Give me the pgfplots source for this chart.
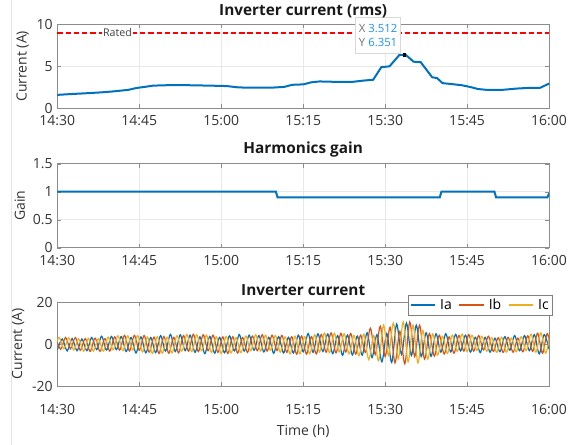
\documentclass[border=0pt]{standalone}
\usepackage{fontspec}
\setmainfont{Open Sans}
\usepackage{pgfplots}
\pgfplotsset{compat=1.18}
\definecolor{mblue}{rgb}{0,0.447,0.741}
\definecolor{morange}{rgb}{0.85,0.325,0.098}
\definecolor{myellow}{rgb}{0.929,0.694,0.125}
\definecolor{tipblue}{RGB}{30,144,255}
\pgfplotsset{
  panel/.style={
    scale only axis, width=368.8pt, height=63pt, anchor=south west,
    xmin=0, xmax=90, xtick={0,15,...,90},
    xticklabels={14:30,14:45,15:00,15:15,15:30,15:45,16:00},
    grid=major, grid style={black!9},
    axis line style={black!45}, tick style={black!45},
    tick align=inside, tick pos=both, major tick length=3pt,
    tick label style={font=\fontsize{10.5}{12}\selectfont, text=black!80},
    xticklabel style={yshift=-2pt},
    /pgf/number format/assume math mode=true,
    title style={font=\bfseries\fontsize{11.5}{13}\selectfont, text=black!90, yshift=-5pt},
    ylabel style={font=\fontsize{10.5}{12}\selectfont, text=black!80, yshift=-1pt},
    xlabel style={font=\fontsize{10.5}{12}\selectfont, text=black!80},
  }
}
\begin{document}
\begin{tikzpicture}
\useasboundingbox (0,0) rectangle (427.5pt,333.75pt);
\draw[black!10] (8.25pt,0) -- (8.25pt,333.75pt);

% Panel 1
\begin{axis}[panel, at={(43pt,252.5pt)}, ymin=0, ymax=10, ytick={0,5,10},
  title={Inverter current (rms)}, ylabel={Current (A)}, clip=false]
\addplot[red, dashed, line width=1.5pt, dash pattern=on 4pt off 2.2pt] coordinates {(0,9) (90,9)};
\node[fill=white, inner sep=1pt, font=\fontsize{8}{9}\selectfont, text=black!75] at (axis cs:11,9) {Rated};
\addplot[mblue, line width=1.5pt] coordinates {
(0,1.6)(2,1.68)(4,1.75)(6,1.82)(8,1.9)(10,2.0)(11.5,2.1)(13,2.2)(14,2.35)(14.8,2.45)(16,2.55)(17.5,2.7)(20,2.75)(24,2.75)(28,2.7)(31,2.65)(33,2.5)(35,2.45)(39,2.45)(41.5,2.55)(43,2.8)(45,2.85)(46.5,3.1)(48,3.2)(51,3.15)(54,3.15)(56,3.3)(57.8,3.4)(59.3,4.9)(60.8,5.0)(62.6,6.35)(63.8,6.35)(65.2,5.55)(66.5,5.5)(68.6,3.7)(69.5,3.6)(70.5,3.0)(72,2.9)(74,2.75)(75.5,2.55)(77,2.3)(78.5,2.2)(81.5,2.2)(84,2.35)(86,2.42)(88.4,2.45)(90,2.95)};
\addplot[only marks, mark=square*, mark size=1pt, black] coordinates {(63.5,6.35)};
\node[draw=black!15, fill=white, anchor=south east, inner sep=2.5pt, align=left,
  font=\fontsize{8.5}{11}\selectfont, minimum width=32pt, minimum height=27pt]
  at (axis cs:62.9,6.5) {{\color{black!55}X} {\color{tipblue}3.512}\\{\color{black!55}Y} {\color{tipblue}6.351}};
\end{axis}

% Panel 2
\begin{axis}[panel, at={(43pt,148pt)}, ymin=0, ymax=1.5, ytick={0,0.5,1,1.5},
  title={Harmonics gain}, ylabel={Gain}]
\addplot[mblue, line width=1.5pt] coordinates {
(0,1)(40,1)(40.3,0.9)(70,0.9)(70.3,1)(80,1)(80.3,0.9)(89.7,0.9)(90,0.97)};
\end{axis}

% Panel 3
\begin{axis}[panel, at={(43pt,44.25pt)}, ymin=-20, ymax=20, ytick={-20,0,20},
  title={Inverter current}, ylabel={Current (A)}, xlabel={Time (h)},
  xticklabel style={yshift=-8pt}, xlabel style={yshift=-1pt},
  legend columns=3,
  legend image post style={line width=1.2pt},
  legend style={at={(rel axis cs:1.008,1.087)}, anchor=north east,
    font=\fontsize{10.5}{12}\selectfont, draw=black!50, inner sep=1pt,
    /tikz/every odd column/.append style={column sep=1pt},
    /tikz/every even column/.append style={column sep=3pt}},
  legend image code/.code={\draw[#1] (0cm,0cm) -- (0.65cm,0cm);}]
\addplot[mblue, line width=0.9pt, smooth] coordinates {
(0,-2.8)(0.9,2.4)(1.8,-3.3)(2.7,2.6)(3.6,-3.2)(4.5,2.4)(5.4,-3.2)(6.3,3.1)(7.2,-2.7)(8.1,3.7)(9,-2.9)(9.9,3.6)(10.8,-2.7)(11.7,3.6)(12.6,-3.6)(13.5,3.1)(14.4,-4.3)(15.3,3.4)(16.2,-4.2)(17.1,3.1)(18,-4.1)(18.9,4.0)(19.8,-3.4)(20.7,4.6)(21.6,-3.6)(22.5,4.4)(23.4,-3.2)(24.3,4.2)(25.2,-4.0)(26.1,3.4)(27,-4.6)(27.9,3.6)(28.8,-4.4)(29.7,3.2)(30.6,-4.2)(31.5,3.9)(32.4,-3.3)(33.3,4.5)(34.2,-3.4)(35.1,4.2)(36,-3.0)(36.9,4.0)(37.8,-3.8)(38.7,3.2)(39.6,-4.4)(40.5,3.5)(41.4,-4.3)(42.3,3.2)(43.2,-4.3)(44.1,4.2)(45,-3.7)(45.9,5.0)(46.8,-4.0)(47.7,4.9)(48.6,-3.6)(49.5,4.8)(50.4,-4.6)(51.3,4.0)(52.2,-5.4)(53.1,4.3)(54,-5.2)(54.9,3.8)(55.8,-5.3)(56.7,5.4)(57.6,-6.5)(58.5,4.5)(59.4,-8.5)(60.3,5.0)(61.2,-8.8)(62.1,9.5)(63,-5.0)(63.9,10.0)(64.8,-5.5)(65.7,9.0)(66.6,-6.0)(67.5,5.4)(68.4,-5.9)(69.3,4.9)(70.2,-3.9)(71.1,4.9)(72,-3.8)(72.9,4.6)(73.8,-3.3)(74.7,4.2)(75.6,-3.9)(76.5,3.2)(77.4,-4.1)(78.3,3.2)(79.2,-3.9)(80.1,2.8)(81,-3.7)(81.9,3.5)(82.8,-3.0)(83.7,4.0)(84.6,-3.2)(85.5,4.0)(86.4,-3.2)(87.3,4.5)(88.2,-4.7)(89.1,4.5)(90,-2.5)};
\addlegendentry{Ia}
\addplot[morange, line width=0.9pt, smooth] coordinates {
(-0.3,3.2)(0.6,-2.5)(1.5,3.1)(2.4,-2.3)(3.3,3.1)(4.2,-3.0)(5.1,2.6)(6,-3.5)(6.9,2.8)(7.8,-3.5)(8.7,2.6)(9.6,-3.4)(10.5,3.4)(11.4,-2.9)(12.3,4.1)(13.2,-3.3)(14.1,4.1)(15,-3.0)(15.9,4.0)(16.8,-3.9)(17.7,3.3)(18.6,-4.5)(19.5,3.6)(20.4,-4.4)(21.3,3.2)(22.2,-4.2)(23.1,4.0)(24,-3.4)(24.9,4.6)(25.8,-3.6)(26.7,4.4)(27.6,-3.2)(28.5,4.2)(29.4,-4.0)(30.3,3.4)(31.2,-4.5)(32.1,3.5)(33,-4.3)(33.9,3.1)(34.8,-4.0)(35.7,3.8)(36.6,-3.2)(37.5,4.4)(38.4,-3.4)(39.3,4.2)(40.2,-3.1)(41.1,4.1)(42,-4.0)(42.9,3.5)(43.8,-4.8)(44.7,3.8)(45.6,-4.8)(46.5,3.5)(47.4,-4.7)(48.3,4.5)(49.2,-3.9)(50.1,5.3)(51,-4.2)(51.9,5.1)(52.8,-3.8)(53.7,5.0)(54.6,-4.8)(55.5,4.2)(56.4,-4.0)(57.3,7.5)(58.2,-5.0)(59.1,8.5)(60,-6.0)(60.9,8.0)(61.8,-9.0)(62.7,6.0)(63.6,-9.5)(64.5,10.5)(65.4,-6.0)(66.3,9.0)(67.2,-7.2)(68.1,5.0)(69,-5.8)(69.9,4.2)(70.8,-4.8)(71.7,3.4)(72.6,-4.4)(73.5,4.1)(74.4,-3.4)(75.3,4.5)(76.2,-3.4)(77.1,4.0)(78,-2.8)(78.9,3.7)(79.8,-3.5)(80.7,3.0)(81.6,-4.0)(82.5,3.2)(83.4,-3.9)(84.3,2.8)(85.2,-3.7)(86.1,3.9)(87,-3.5)(87.9,5.1)(88.8,-4.4)(89.7,5.0)(90.6,-7.0)};
\addlegendentry{Ib}
\addplot[myellow, line width=0.9pt, smooth] coordinates {
(-0.6,-2.5)(0.3,3.1)(1.2,-2.3)(2.1,3.0)(3,-2.9)(3.9,2.5)(4.8,-3.4)(5.7,2.7)(6.6,-3.4)(7.5,2.5)(8.4,-3.4)(9.3,3.3)(10.2,-2.8)(11.1,3.9)(12,-3.2)(12.9,3.9)(13.8,-2.9)(14.7,4.0)(15.6,-3.8)(16.5,3.3)(17.4,-4.5)(18.3,3.5)(19.2,-4.4)(20.1,3.2)(21,-4.2)(21.9,4.0)(22.8,-3.4)(23.7,4.6)(24.6,-3.6)(25.5,4.4)(26.4,-3.2)(27.3,4.2)(28.2,-4.0)(29.1,3.4)(30,-4.6)(30.9,3.6)(31.8,-4.3)(32.7,3.1)(33.6,-4.1)(34.5,3.8)(35.4,-3.2)(36.3,4.4)(37.2,-3.4)(38.1,4.2)(39,-3.0)(39.9,4.0)(40.8,-3.9)(41.7,3.4)(42.6,-4.7)(43.5,3.7)(44.4,-4.7)(45.3,3.5)(46.2,-4.6)(47.1,4.4)(48,-3.8)(48.9,5.2)(49.8,-4.1)(50.7,5.1)(51.6,-3.7)(52.5,4.9)(53.4,-4.7)(54.3,4.1)(55.2,-5.6)(56.1,4.7)(57,-7.5)(57.9,4.0)(58.8,-8.0)(59.7,9.0)(60.6,-5.5)(61.5,10.0)(62.4,-7.0)(63.3,10.5)(64.2,-8.5)(65.1,9.0)(66,-9.0)(66.9,6.5)(67.8,-7.2)(68.7,4.8)(69.6,-5.3)(70.5,3.6)(71.4,-4.5)(72.3,4.2)(73.2,-3.5)(74.1,4.7)(75,-3.6)(75.9,4.2)(76.8,-3.0)(77.7,3.7)(78.6,-3.5)(79.5,3.0)(80.4,-4.0)(81.3,3.2)(82.2,-3.9)(83.1,2.8)(84,-3.7)(84.9,3.5)(85.8,-3.2)(86.7,4.7)(87.6,-3.9)(88.5,5.4)(89.4,-4.4)(90.3,7.0)};
\addlegendentry{Ic}
\end{axis}
\end{tikzpicture}
\end{document}
